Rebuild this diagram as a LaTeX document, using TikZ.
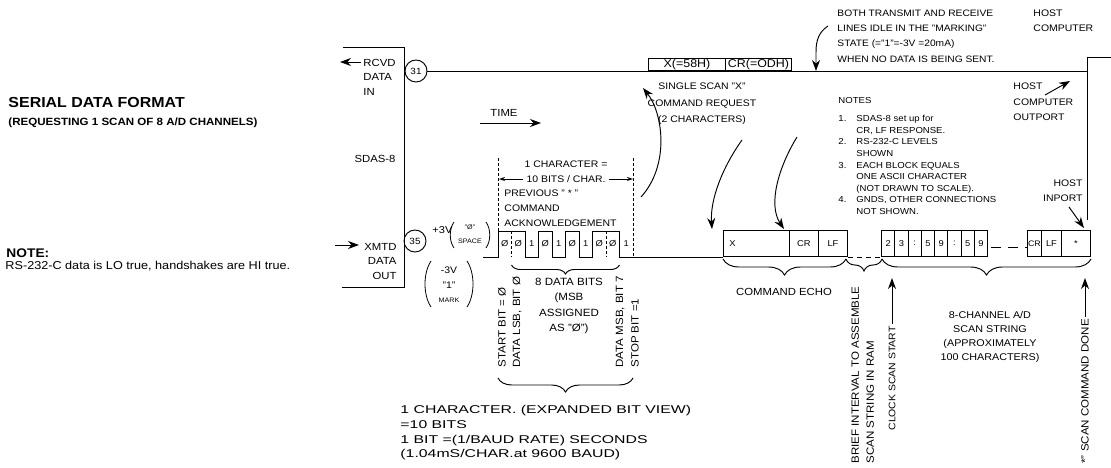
\documentclass[tikz,border=0pt]{standalone}
\usepackage{fontspec}
\setmainfont[FakeStretch=1.1]{Liberation Sans}
\newfontfamily\widefont[FakeStretch=1.4]{Liberation Sans}
\usetikzlibrary{arrows.meta,decorations.pathreplacing,positioning}

\begin{document}
\begin{tikzpicture}[x=1pt,y=-1pt,line width=0.95pt,
  lbl/.style={inner sep=0pt,font=\fontsize{9.5}{15}\selectfont},
  side/.style={inner sep=0pt,font=\fontsize{10.3}{14.5}\selectfont},
  vlbl/.style={inner sep=0pt,rotate=90,font=\fontsize{10.5}{15}\selectfont},
  notetxt/.style={inner sep=0pt,font=\fontsize{8.7}{11.6}\selectfont},
  pinring/.style={circle,draw,minimum size=22pt,inner sep=0pt,font=\fontsize{9}{9}\selectfont},
  cell/.style={draw,anchor=south west,minimum height=26pt,inner sep=0pt,font=\fontsize{8.5}{8.5}\selectfont},
  bigarr/.style={-{Stealth[length=11pt,width=8pt]}},
  tinyarr/.style={-{Stealth[length=6pt,width=4pt]}},
  curly/.style={decorate,decoration={brace,mirror,amplitude=#1}},
  tickline/.style={dash pattern=on 3pt off 2pt,line width=0.6pt}]
\useasboundingbox (0,0) rectangle (1111,467);

%Headings on the left
\node[anchor=west,inner sep=0pt,font=\fontsize{14.5}{14.5}\selectfont\bfseries] (title) at (8,103) {SERIAL DATA FORMAT};
\node[anchor=west,inner sep=0pt,font=\fontsize{10.5}{10.5}\selectfont\bfseries] (subtitle) at (8,123) {(REQUESTING 1 SCAN OF 8 A/D CHANNELS)};
\node[anchor=west,inner sep=0pt,font=\fontsize{12.5}{12.5}\selectfont\bfseries] (notehead) at (6,253) {NOTE:};
\node[anchor=west,inner sep=0pt,font=\fontsize{11.5}{11.5}\selectfont] (notebody) at (5,266) {RS-232-C data is LO true, handshakes are HI true.};

%SDAS-8 block
\draw (343,47) -- (404,47) -- (404,287) -- (342,287); %box, open on the left
\node[side,anchor=west,align=left] (rcvd) at (363,77) {RCVD\\DATA\\IN};
\node[side,anchor=east,align=right] (xmtd) at (397,261) {XMTD\\DATA\\OUT};
\node[side] (sdas) at (375,159) {SDAS-8};
\coordinate (rcvdtail) at (361,62);
\coordinate (rcvdtip) at (340,62);
\coordinate (xmtdtail) at (335,245);
\coordinate (xmtdtip) at (359,245);
\draw[bigarr] (rcvdtail) -- (rcvdtip);
\draw[bigarr] (xmtdtail) -- (xmtdtip);
\node[pinring] (p31) at (416,71) {31};
\node[pinring] (p35) at (415,241) {35};

%Receive line and host computer
\coordinate (hostjoin) at (1087,71);
\draw (p31) -- (hostjoin);
\draw (1111,57) -- (1087,57) -- (1087,220); %host computer edge
\node[lbl,anchor=west,align=left] (hostcomp) at (1033,21) {HOST\\COMPUTER};
\node[cell,minimum height=12pt,minimum width=77pt,font=\fontsize{11.3}{11.3}\selectfont] (xtop) at (648,71) {X(=58H)};
\node[cell,minimum height=12pt,minimum width=66pt,font=\fontsize{11.3}{11.3}\selectfont] (crtop) at (725,71) {CR(=ODH)};
\node[lbl,anchor=west,align=left,font=\fontsize{9.3}{15.3}\selectfont] (idle) at (837,36) {BOTH TRANSMIT AND RECEIVE\\LINES IDLE IN THE "MARKING"\\STATE (="1"=-3V =20mA)\\WHEN NO DATA IS BEING SENT.};
\coordinate (idletail) at (828,26);
\coordinate (idletip) at (816,71);
\draw[bigarr] (idletail) .. controls (819,32) and (816,40) .. (816,52) -- (idletip);

%Time
\node[side] (time) at (504,113) {TIME};
\coordinate (timetail) at (480,123);
\coordinate (timetip) at (541,123);
\draw[bigarr] (timetail) -- (timetip);

%Levels
\node[lbl,anchor=west,font=\fontsize{10}{10}\selectfont] (plusv) at (432,230) {+3V};
\node[inner sep=0pt,align=center,font=\fontsize{6.5}{14}\selectfont] (spacegrp) at (470,234) {"Ø"\\SPACE};
\draw[line width=0.8pt] (454,222) .. controls (449,229) and (449,241) .. (454,248); %brackets round SPACE
\draw[line width=0.8pt] (486,222) .. controls (491,229) and (491,241) .. (486,248);
\node[inner sep=0pt,align=center,font=\fontsize{9.5}{14.5}\selectfont] (markgrp) at (449,285) {-3V\\"1"\\{\fontsize{6.5}{6.5}\selectfont MARK}};
\draw[line width=0.8pt] (431,261) .. controls (423,273) and (423,295) .. (431,307); %brackets round MARK
\draw[line width=0.8pt] (467,261) .. controls (475,273) and (475,295) .. (467,307);

%Expanded character on the transmit line
\draw (483,257) -- (498,257) |- (525,231) |- (538.5,257) |- (552,231) |- (565.5,257) |- (579,231) |- (592.5,257) |- (619.5,231) |- (723,257);
\foreach \b [count=\i from 0] in {Ø,Ø,1,Ø,1,Ø,1,Ø,Ø,1}
  \node[lbl,font=\fontsize{8.5}{8.5}\selectfont] (bit\i) at ({504.75+13.5*\i},244) {\b};
\draw[tickline] (498.5,158) -- (498.5,231);
\draw[tickline] (633,158) -- (633,257);
\draw[tickline] (511.5,231) -- (511.5,257);
\draw[tickline] (606,231) -- (606,257);
\node[lbl] (onechar) at (566,164) {1 CHARACTER =};
\node[lbl,inner xsep=3pt] (tenbits) at (566,179) {10 BITS / CHAR.};
\coordinate (charl) at (499,179);
\coordinate (charr) at (633,179);
\draw[tinyarr] (tenbits.west) -- (charl);
\draw[tinyarr] (tenbits.east) -- (charr);
\node[lbl,anchor=west,align=left] (prevack) at (504,208) {PREVIOUS " * "\\COMMAND\\ACKNOWLEDGEMENT};

%Bit labels under the character
\coordinate (db1) at (511.5,265);
\coordinate (db2) at (619.5,265);
\draw[curly=9pt] (db1) -- (db2);
\node[lbl,align=center,font=\fontsize{10.5}{15.5}\selectfont] (databits) at (569,306) {8 DATA BITS\\(MSB\\ASSIGNED\\AS "Ø")};
\node[vlbl,anchor=west] (startbit) at (502,368) {START BIT = Ø};
\node[vlbl,anchor=west] (lsb) at (517,368) {DATA LSB, BIT Ø};
\node[vlbl,anchor=west] (msb) at (620,368) {DATA MSB, BIT 7};
\node[vlbl,anchor=west] (stopbit) at (635,368) {STOP BIT =1};
\coordinate (cb1) at (498,378);
\coordinate (cb2) at (633,378);
\draw[curly=14pt] (cb1) -- (cb2);
\node[lbl,anchor=west,align=left,font=\widefont\fontsize{11.3}{14.7}\selectfont] (charinfo) at (400,433) {1 CHARACTER. (EXPANDED BIT VIEW)\\=10 BITS\\1 BIT =(1/BAUD RATE) SECONDS\\(1.04mS/CHAR.at 9600 BAUD)};

%Command request
\node[lbl,align=center,font=\fontsize{9.5}{16.5}\selectfont] (request) at (702,104) {SINGLE SCAN "X"\\COMMAND REQUEST\\(2 CHARACTERS)};
\coordinate (chartail) at (641,197);
\coordinate (chartip) at (643,88);
\draw[bigarr] (chartail) .. controls (670,165) and (663,113) .. (chartip);
\coordinate (echoAtail) at (742,140);
\coordinate (echoAtip) at (712,229);
\draw[bigarr] (echoAtail) .. controls (722,168) and (710,200) .. (echoAtip);
\coordinate (echoBtail) at (797,137);
\coordinate (echoBtip) at (784,229);
\draw[bigarr] (echoBtail) .. controls (778,168) and (768,205) .. (echoBtip);

%Notes
\node[notetxt,anchor=west] (notes) at (838,100) {NOTES};
\node[notetxt,anchor=north west] (notelist) at (838,113) {\begin{tabular}{@{}p{18pt}@{}l@{}}
1.&SDAS-8 set up for\\&CR, LF RESPONSE.\\
2.&RS-232-C LEVELS\\&SHOWN\\
3.&EACH BLOCK EQUALS\\&ONE ASCII CHARACTER\\&(NOT DRAWN TO SCALE).\\
4.&GNDS, OTHER CONNECTIONS\\&NOT SHOWN.\end{tabular}};
\node[lbl,anchor=west,align=left,font=\fontsize{9.5}{15.5}\selectfont] (hostout) at (1013,102) {HOST\\COMPUTER\\OUTPORT};
\coordinate (outtail) at (1045,95);
\coordinate (outtip) at (1070,81);
\draw[bigarr] (outtail) -- (outtip);
\node[lbl,anchor=east,align=right] (hostin) at (1083,191) {HOST\\INPORT};
\coordinate (intail) at (1069,207);
\coordinate (intip) at (1084,228);
\draw[bigarr] (intail) -- (intip);

%Echo and scan string blocks
\node[cell,minimum width=66pt,text width=54pt,inner xsep=6pt,align=left] (xe) at (723,257) {X};
\node[cell,minimum width=29pt] (cre) at (789,257) {CR};
\node[cell,minimum width=29pt] (lfe) at (818,257) {LF};
\foreach \d [count=\i from 0] in {2,3,:,5,9,:,5,9}
  \node[cell,minimum width=13.25pt] (s\i) at ({881+13.25*\i},257) {\d};
\draw[dash pattern=on 5pt off 4pt] (lfe.south east) -- (s0.south west);
\node[cell,minimum width=14pt,font=\fontsize{8}{8}\selectfont] (cre2) at (1027,257) {CR};
\node[cell,minimum width=20pt] (lfe2) at (1041,257) {LF};
\node[cell,minimum width=29pt] (stare) at (1061,257) {*};
\draw[dash pattern=on 10pt off 7pt] ([xshift=3pt,yshift=10pt]s7.south east) -- ([yshift=10pt]cre2.south west);

%Braces and labels below the blocks
\coordinate (be1) at (723,259);
\coordinate (be2) at (846,259);
\coordinate (be3) at (882,259);
\coordinate (be4) at (1091,259);
\draw[curly=16pt] (be1) -- (be2);
\draw[curly=12pt] (be2) -- (be3);
\draw[curly=16pt] (be3) -- (be4);
\node[lbl,font=\fontsize{10.3}{10.3}\selectfont] (echo) at (784,292) {COMMAND ECHO};
\node[lbl,align=center,font=\fontsize{9.8}{14}\selectfont] (scanstr) at (990,337) {8-CHANNEL A/D\\SCAN STRING\\(APPROXIMATELY\\100 CHARACTERS)};
\node[vlbl,anchor=north west,align=left] (brief) at (851,464) {BRIEF INTERVAL TO ASSEMBLE\\SCAN STRING IN RAM};
\node[vlbl,anchor=west,inner xsep=2pt,font=\fontsize{9.5}{9.5}\selectfont] (clk) at (892,433) {CLOCK SCAN START};
\coordinate (clktip) at (892,278);
\draw[bigarr] (clk.east) -- (clktip);
\node[vlbl,anchor=west,inner xsep=2pt] (done) at (1085,466) {*" SCAN COMMAND DONE};
\coordinate (donetip) at (1085,278);
\draw[bigarr] (done.east) -- (donetip);
\end{tikzpicture}
\end{document}
